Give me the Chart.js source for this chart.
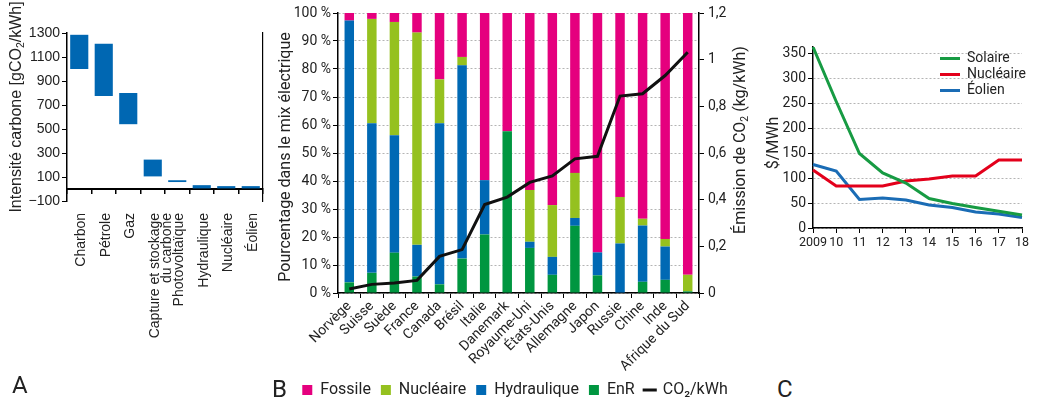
<!DOCTYPE html>
<html lang="fr">
<head>
<meta charset="utf-8">
<title>Intensité carbone, mix électrique et coûts de production</title>
<script src="https://cdn.jsdelivr.net/npm/chart.js@4.4.1/dist/chart.umd.min.js"></script>
<style>
  html, body { margin: 0; padding: 0; background: #fff; overflow: hidden; }
  #page { position: relative; width: 1038px; height: 400px; overflow: hidden; }
  canvas { position: absolute; top: 0; }
  .txt { position: absolute; color: #222; white-space: nowrap; line-height: 1; }
  .rot { transform: translate(-50%, -50%) rotate(-90deg); }
  .din { font-family: Roboto, sans-serif; font-size: 16px; }
  .letter { font-family: Roboto, sans-serif; font-size: 24px; transform: translateY(-50%); }
  sub { font-size: 0.65em; vertical-align: -0.25em; line-height: 0; }
</style>
</head>
<body>
<div id="page">
  <canvas id="chartA" width="270" height="400" style="left:0"></canvas>
  <canvas id="chartB" width="490" height="408" style="left:270px"></canvas>
  <canvas id="chartC" width="278" height="260" style="left:760px"></canvas>

  <div class="txt rot" style="left:16px; top:107px; font-family:'Liberation Sans', Arial, sans-serif; font-size:16px;">Intensité carbone [gCO<sub>2</sub>/kWh]</div>
  <div class="txt rot din" style="left:285px; top:157px;">Pourcentage dans le mix électrique</div>
  <div class="txt rot din" style="left:740px; top:140px;">Émission de CO<sub>2</sub> (kg/kWh)</div>
  <div class="txt rot din" style="left:773px; top:143px;">$/MWh</div>

  <div class="txt letter" style="left:12px; top:385px;">A</div>
  <div class="txt letter" style="left:272px; top:389px;">B</div>
  <div class="txt letter" style="left:777px; top:389px;">C</div>
</div>

<script>
// A : intensité carbone par source (fourchette basse / haute, gCO2/kWh)
const sources = ['Charbon', 'Pétrole', 'Gaz', ['Capture et stockage', 'du carbone'], 'Photovoltaïque', 'Hydraulique', 'Nucléaire', 'Éolien'];
const intensityLow = [1000, 775, 540, 105, 58, 5, 5, 5];
const intensityHigh = [1285, 1210, 800, 245, 73, 32, 24, 24];

// B : mix électrique par pays (%) et émission de CO2 (kg/kWh)
const countries = ['Norvège', 'Suisse', 'Suède', 'France', 'Canada', 'Brésil', 'Italie', 'Danemark',
  'Royaume-Uni', 'États-Unis', 'Allemagne', 'Japon', 'Russie', 'Chine', 'Inde', 'Afrique du Sud'];
const shareEnR     = [3.8, 7.2, 14.4, 5.9, 3.1, 12.3, 20.9, 57.8, 16.1, 6.5, 24.0, 6.3, 0, 4.0, 4.7, 0.6];
const shareHydro   = [93.5, 53.4, 41.9, 11.3, 57.5, 69.0, 19.4, 0, 2.2, 6.4, 2.8, 8.2, 17.7, 20.1, 11.9, 0];
const shareNuclear = [0, 37.3, 40.5, 75.8, 15.7, 3.0, 0, 0, 18.5, 18.5, 16.1, 0, 16.6, 2.4, 2.7, 5.9];
const shareFossil  = [2.7, 2.1, 3.2, 7.0, 23.7, 15.7, 59.7, 42.2, 63.2, 68.6, 57.1, 85.5, 65.7, 73.5, 80.7, 93.5];
const co2PerKWh    = [0.017, 0.037, 0.043, 0.054, 0.157, 0.186, 0.379, 0.411, 0.474, 0.502, 0.575, 0.586, 0.844, 0.854, 0.932, 1.032];

// C : coût de production ($/MWh)
const years = ['2009', '10', '11', '12', '13', '14', '15', '16', '17', '18'];
const costSolar   = [362, 253, 149, 110, 90, 59, 49, 41, 33.5, 26];
const costNuclear = [116, 84, 84, 84, 94, 98, 104, 104, 136, 136];
const costWind    = [127, 114, 57, 60, 56, 46, 41, 32, 28, 21];

Chart.defaults.font.family = 'Roboto, sans-serif';
Chart.defaults.color = '#222';
Chart.defaults.animation = false;
Chart.defaults.responsive = false;
Chart.defaults.plugins.tooltip.enabled = false;

const arialFont = { family: "'Liberation Sans', Arial, sans-serif", size: 14 };
const dotted = [2, 2];

new Chart(document.getElementById('chartA'), {
  type: 'bar',
  data: {
    labels: sources,
    datasets: [{
      data: sources.map((_, i) => [intensityLow[i], intensityHigh[i]]),
      backgroundColor: '#0067b2',
      categoryPercentage: 1,
      barPercentage: 0.74,
      xAxisID: 'x',
      yAxisID: 'y',
    }],
  },
  options: {
    layout: { padding: { top: 33, right: 7 } },
    plugins: { legend: { display: false } },
    scales: {
      x: {
        position: 'bottom',
        grid: { display: false },
        border: { display: false },
        ticks: { autoSkip: false, maxRotation: 90, minRotation: 90, padding: 4, labelOffset: 2,
          font: { ...arialFont, lineHeight: 0.92 } },
        afterFit: (s) => { s.height = 199; },
      },
      xZero: {
        type: 'category',
        position: { y: 0 },
        offset: true,
        grid: { offset: true, drawOnChartArea: false, tickLength: 4, color: '#000', lineWidth: 1.5 },
        border: { color: '#000', width: 2 },
        ticks: { display: false },
      },
      y: {
        min: -100,
        max: 1300,
        ticks: { stepSize: 200, padding: 2, font: arialFont,
          callback: (v) => (v < 0 ? '\u2212' + Math.abs(v) : String(v)) },
        grid: { drawOnChartArea: false, tickLength: 5, color: '#000' },
        border: { color: '#000', width: 1.5 },
        afterFit: (s) => { s.width = 67; },
      },
      yRight: {
        position: 'right',
        min: -100,
        max: 1300,
        ticks: { display: false },
        grid: { display: false },
        border: { color: '#000', width: 1.2 },
        afterFit: (s) => { s.width = 0; },
      },
    },
  },
});

new Chart(document.getElementById('chartB'), {
  type: 'bar',
  data: {
    labels: countries,
    datasets: [
      { type: 'line', label: 'CO₂/kWh', data: co2PerKWh, yAxisID: 'y1', borderColor: '#111', backgroundColor: '#111',
        borderWidth: 3, pointRadius: 0, pointBorderWidth: 3, pointStyle: 'line', tension: 0 },
      { label: 'EnR', data: shareEnR, backgroundColor: '#009640', pointStyle: 'rect' },
      { label: 'Hydraulique', data: shareHydro, backgroundColor: '#0069b4', pointStyle: 'rect' },
      { label: 'Nucléaire', data: shareNuclear, backgroundColor: '#95c11f', pointStyle: 'rect' },
      { label: 'Fossile', data: shareFossil, backgroundColor: '#e5007e', pointStyle: 'rect' },
    ],
  },
  options: {
    layout: { padding: { top: 13 } },
    datasets: { bar: { categoryPercentage: 1, barPercentage: 0.42 } },
    plugins: {
      legend: {
        position: 'bottom',
        reverse: true,
        labels: { usePointStyle: true, boxWidth: 10, boxHeight: 10, padding: 10, font: { size: 16 }, color: '#222' },
      },
    },
    scales: {
      x: {
        stacked: true,
        grid: { offset: true, drawOnChartArea: false, tickLength: 5, color: '#000' },
        border: { color: '#000', width: 1.5 },
        ticks: { autoSkip: false, maxRotation: 45, minRotation: 45, padding: 0, font: { size: 14 } },
        afterFit: (s) => { s.height = 79; },
      },
      y: {
        stacked: true,
        min: 0,
        max: 100,
        ticks: { stepSize: 10, padding: 2, font: { size: 14 }, callback: (v) => v + '\u00a0%' },
        grid: { color: '#b4b4b4', tickColor: '#000', tickLength: 5 },
        border: { color: '#000', width: 1.5, dash: dotted },
        afterFit: (s) => { s.width = 68; },
      },
      y1: {
        position: 'right',
        min: 0,
        max: 1.2,
        ticks: { stepSize: 0.2, padding: 4, font: { size: 14 },
          callback: (v) => String(Math.round(v * 10) / 10).replace('.', ',') },
        grid: { drawOnChartArea: false, tickLength: 5, color: '#000' },
        border: { color: '#000', width: 1.5 },
        afterFit: (s) => { s.width = 61; },
      },
    },
  },
});

// put the C legend in the top right corner of the plot
const legendTopRight = {
  id: 'legendTopRight',
  afterLayout(chart) {
    const lg = chart.legend;
    lg.left = chart.chartArea.right - 84;
    lg.right = chart.width;
    lg.top = chart.chartArea.top + 2.5;
  },
};

new Chart(document.getElementById('chartC'), {
  type: 'line',
  data: {
    labels: years,
    datasets: [
      { label: 'Solaire', data: costSolar, borderColor: '#179b43', backgroundColor: '#179b43' },
      { label: 'Nucléaire', data: costNuclear, borderColor: '#e3001b', backgroundColor: '#e3001b' },
      { label: 'Éolien', data: costWind, borderColor: '#1a6cb5', backgroundColor: '#1a6cb5' },
    ],
  },
  options: {
    layout: { padding: { top: 47, right: 16 } },
    elements: { line: { borderWidth: 3, tension: 0 }, point: { radius: 0, borderWidth: 3 } },
    plugins: {
      legend: {
        position: 'chartArea',
        align: 'start',
        labels: { usePointStyle: true, pointStyle: 'line', pointStyleWidth: 20, padding: 2, font: { size: 14 }, color: '#222' },
      },
    },
    scales: {
      x: {
        offset: false,
        grid: { drawOnChartArea: false, tickLength: 5, color: '#000' },
        border: { color: '#000', width: 1.5 },
        ticks: { autoSkip: false, maxRotation: 0, padding: 2, font: { size: 12.5 } },
        afterFit: (s) => { s.height = 32; },
      },
      y: {
        min: 0,
        max: 362,
        ticks: { stepSize: 50, includeBounds: false, padding: 2, font: { size: 14 } },
        grid: { color: '#b4b4b4', tickColor: '#000', tickLength: 5 },
        border: { color: '#000', width: 1.5, dash: dotted },
        afterFit: (s) => { s.width = 53; },
      },
    },
  },
  plugins: [legendTopRight],
});
</script>
</body>
</html>
